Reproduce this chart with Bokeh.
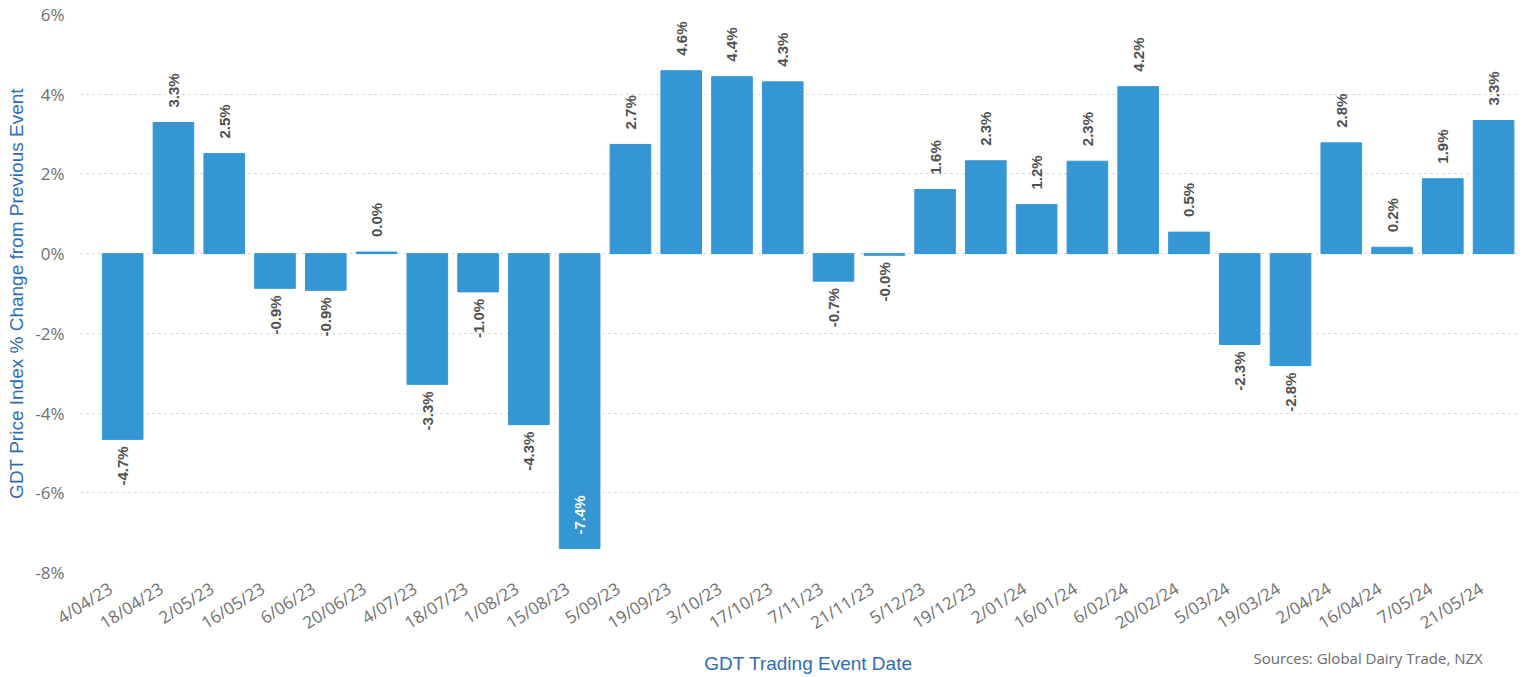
import math
from bokeh.plotting import figure
from bokeh.layouts import column
from bokeh.models import ColumnDataSource, Range1d, FixedTicker, Label, PrintfTickFormatter
from bokeh.core.properties import value
from bokeh.embed import file_html
from bokeh.resources import INLINE

# ---- data ----
dates = ["4/04/23", "18/04/23", "2/05/23", "16/05/23", "6/06/23", "20/06/23",
         "4/07/23", "18/07/23", "1/08/23", "15/08/23", "5/09/23", "19/09/23",
         "3/10/23", "17/10/23", "7/11/23", "21/11/23", "5/12/23", "19/12/23",
         "2/01/24", "16/01/24", "6/02/24", "20/02/24", "5/03/24", "19/03/24",
         "2/04/24", "16/04/24", "7/05/24", "21/05/24"]
changes = [-4.66, 3.29, 2.51, -0.87, -0.92, 0.04,
           -3.28, -0.96, -4.29, -7.40, 2.74, 4.59,
           4.44, 4.31, -0.69, -0.04, 1.61, 2.33,
           1.23, 2.32, 4.19, 0.54, -2.28, -2.81,
           2.78, 0.16, 1.88, 3.34]
y_ticks = [-8, -6, -4, -2, 0, 2, 4, 6]

x_title = "GDT Trading Event Date"
y_title = "GDT Price Index % Change from Previous Event"
source_note = "Sources: Global Dairy Trade, NZX"

BAR = "#3497D3"
TITLE_BLUE = "#2E6DB4"
TICK_GREY = "#707070"
LABEL_GREY = "#505050"

W = 1520
LEFT = 80
H_MAIN = 646
H_FOOT = 31

idx = list(range(len(dates)))
labels = [f"{v:.1f}%" for v in changes]

src = ColumnDataSource(dict(x=idx, top=changes, date=dates, label=labels))

p = figure(width=W, height=H_MAIN,
           x_range=Range1d(-0.831, 27.53), y_range=Range1d(-8, 6),
           output_backend="svg", toolbar_location=None,
           min_border_left=LEFT, min_border_right=0, min_border_top=14, min_border_bottom=74)

p.vbar(x="x", top="top", bottom=0, width=0.8, source=src, fill_color=BAR, line_color=BAR)

def subset(cond):
    ii = [i for i, v in enumerate(changes) if cond(v)]
    return dict(x=ii, y=[changes[i] for i in ii], t=[labels[i] for i in ii])

pos = subset(lambda v: v >= 0)
neg = subset(lambda v: -7 < v < 0)
ins = subset(lambda v: v <= -7)

common = dict(angle=math.pi / 2, text_baseline="middle", text_font=value("Liberation Sans"),
              text_font_size="15px", text_font_style="bold")
p.text(x=pos["x"], y=pos["y"], text=pos["t"], text_align="left", y_offset=-15,
       text_color=LABEL_GREY, **common)
p.text(x=neg["x"], y=neg["y"], text=neg["t"], text_align="right", y_offset=7,
       text_color=LABEL_GREY, **common)
p.text(x=ins["x"], y=ins["y"], text=ins["t"], text_align="left", y_offset=-14,
       text_color="white", **common)

# x axis: date labels sit slightly left of each bar centre, as in the original
shift = 0.24
tick_pos = [i - shift for i in idx]
p.xaxis.ticker = FixedTicker(ticks=tick_pos)
p.xaxis.major_label_overrides = {t: d for t, d in zip(tick_pos, dates)}
p.xaxis.major_label_orientation = 0.56
p.xaxis.major_label_standoff = 8
p.xaxis.major_label_text_font = "Open Sans"
p.xaxis.major_label_text_font_size = "17px"
p.xaxis.major_label_text_color = TICK_GREY

# y axis
p.yaxis.ticker = FixedTicker(ticks=y_ticks)
p.yaxis.formatter = PrintfTickFormatter(format="%d%%")
p.yaxis.major_label_text_font = "Open Sans"
p.yaxis.major_label_text_font_size = "17px"
p.yaxis.major_label_text_color = TICK_GREY
p.yaxis.major_label_standoff = 10
p.yaxis.axis_label = y_title
p.yaxis.axis_label_text_font = "Liberation Sans"
p.yaxis.axis_label_text_font_size = "19px"
p.yaxis.axis_label_text_font_style = "normal"
p.yaxis.axis_label_text_color = TITLE_BLUE
p.yaxis.axis_label_standoff = 5

for ax in (p.xaxis, p.yaxis):
    ax.axis_line_color = None
    ax.major_tick_line_color = None
    ax.minor_tick_line_color = None

p.xgrid.visible = False
p.ygrid.grid_line_color = "#c8c8c8"
p.ygrid.grid_line_dash = "2 4"
p.ygrid.grid_line_width = 1
p.outline_line_color = None

# footer strip holding the x-axis title and the source note (frame aligned with the plot)
f = figure(width=W, height=H_FOOT, x_range=Range1d(LEFT, W), y_range=Range1d(H_MAIN + H_FOOT, H_MAIN),
           output_backend="svg", toolbar_location=None,
           min_border_left=LEFT, min_border_right=0, min_border_top=0, min_border_bottom=0,
           x_axis_location=None, y_axis_location=None)
f.grid.visible = False
f.outline_line_color = None
f.add_layout(Label(x=808, y=663, text=x_title, text_align="center", text_baseline="middle",
                   text_font="Liberation Sans", text_font_size="19px", text_color=TITLE_BLUE))
f.add_layout(Label(x=1253, y=657, text=source_note, text_align="left", text_baseline="middle",
                   text_font="Open Sans", text_font_size="15px", text_color="#6b6b6b"))

layout = column(p, f, spacing=0)
open("out.html", "w").write(file_html(layout, INLINE))
